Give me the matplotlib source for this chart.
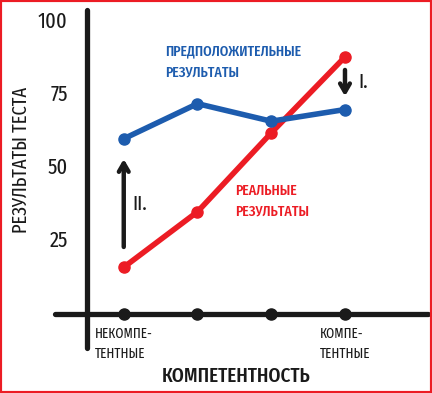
import matplotlib
matplotlib.use('Agg')
import matplotlib.pyplot as plt
from matplotlib.patches import Rectangle

# data
levels = [1, 2, 3, 4]
expected = [60, 72, 66, 70]
actual = [16, 35, 62, 88]
y_ticks = [25, 50, 75, 100]
x_tick_pos = [1, 4]
x_tick_labels = ['НЕКОМПЕ-\nТЕНТНЫЕ', 'КОМПЕ-\nТЕНТНЫЕ']

BLUE = '#1d5cae'
RED = '#ec1c24'
INK = '#1a1a1a'
plt.rcParams['font.family'] = ['Fira Sans Extra Condensed', 'DejaVu Sans']

fig = plt.figure(figsize=(4.32, 3.93), dpi=100)
ax = fig.add_axes([0, 0, 1, 1])
ax.axis('off')
ax.set_xlim(-0.678, 5.18)
ax.set_ylim(-27.05, 107.5)

# hand-drawn axes (y axis crosses below the x axis)
ax.plot([0.5, 0.5], [-11.6, 104.1], color=INK, lw=3.8, solid_capstyle='round', zorder=2)
ax.plot([0.07, 5.12], [0, 0], color=INK, lw=3.8, solid_capstyle='round', zorder=2)
ax.plot(levels, [0] * len(levels), 'o', color=INK, ms=8, zorder=3)

for t in y_ticks:
    ax.text(0.24, t, str(t), ha='right', va='center', fontsize=16, color=INK)
for p, lab in zip(x_tick_pos, x_tick_labels):
    ax.text(p, -4.5, lab, ha='center', va='top', multialignment='left',
            fontsize=10.2, color=INK, linespacing=1.45)

ax.text(2.52, -21.3, 'КОМПЕТЕНТНОСТЬ', ha='center', va='center',
        fontsize=15, fontweight='medium', color=INK)
ax.text(-0.39, 52.7, 'РЕЗУЛЬТАТЫ ТЕСТА', rotation=90, ha='center', va='center',
        fontsize=14.5, color=INK)

# series
ax.plot(levels, actual, '-o', color=RED, lw=4, ms=8, zorder=4)
ax.plot(levels, expected, '-o', color=BLUE, lw=4, ms=8, zorder=5,
        solid_joinstyle='round')

ax.text(1.56, 86.3, 'ПРЕДПОЛОЖИТЕЛЬНЫЕ\nРЕЗУЛЬТАТЫ', ha='left', va='center',
        fontsize=10.8, fontweight='medium', color=BLUE, linespacing=1.55)
ax.text(2.51, 38.6, 'РЕАЛЬНЫЕ\nРЕЗУЛЬТАТЫ', ha='left', va='center',
        fontsize=10.8, fontweight='medium', color=RED, linespacing=1.55)

# gap arrows
aprops = dict(arrowstyle='->,head_length=0.6,head_width=0.35', color=INK, lw=3.2)
ax.annotate('', xy=(1, expected[0] - 6), xytext=(1, actual[0] + 6), arrowprops=aprops)
ax.annotate('', xy=(4, expected[-1] + 3.6), xytext=(4, actual[-1] - 3.5), arrowprops=aprops)
ax.text(1.22, 37.5, 'II.', ha='center', va='center', fontsize=15, color=INK)
ax.text(4.25, 79.5, 'I.', ha='center', va='center', fontsize=15, color=INK)

fig.patches.append(Rectangle((0, 0), 1, 1, transform=fig.transFigure, fill=False,
                             edgecolor=RED, lw=3))

fig.savefig('out.png', dpi=100)
